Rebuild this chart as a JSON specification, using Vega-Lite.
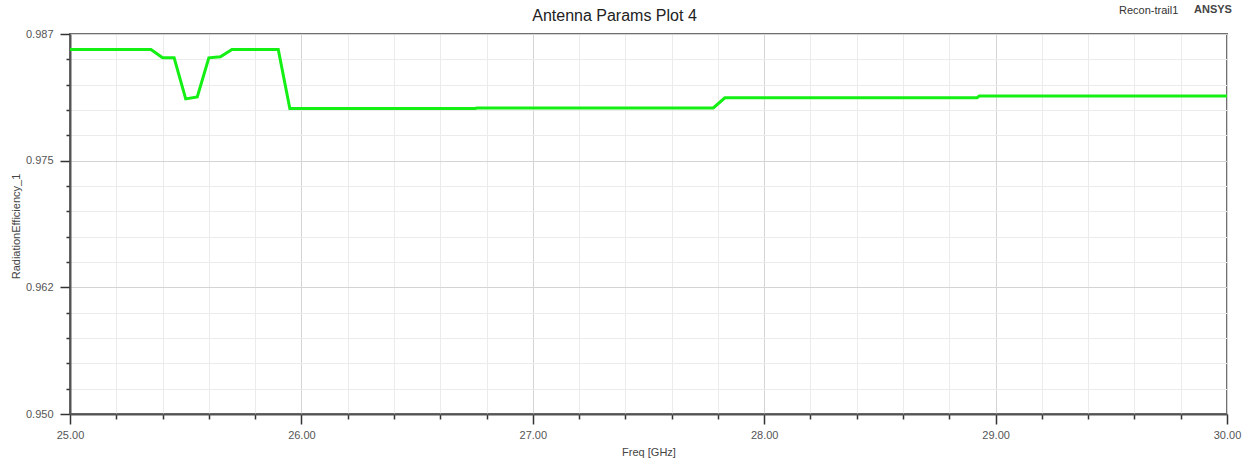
{
  "$schema": "https://vega.github.io/schema/vega-lite/v6.json",
  "autosize": {"type": "none"},
  "width": 1157,
  "height": 380,
  "padding": {"left": 70, "top": 34, "right": 28, "bottom": 58},
  "background": "white",
  "title": {
    "text": "Antenna Params Plot 4",
    "font": "Liberation Sans",
    "fontSize": 16,
    "fontWeight": "normal",
    "color": "#222222",
    "anchor": "middle",
    "frame": "group",
    "dx": -34,
    "dy": 32,
    "offset": 13
  },
  "config": {
    "view": {"stroke": "#707070", "strokeWidth": 2},
    "font": "Liberation Sans"
  },
  "data": {
    "values": [
      {"design": "Recon-trail1", "freq": 25.00, "eff": 0.98549},
      {"design": "Recon-trail1", "freq": 25.35, "eff": 0.98549},
      {"design": "Recon-trail1", "freq": 25.40, "eff": 0.98468},
      {"design": "Recon-trail1", "freq": 25.45, "eff": 0.98468},
      {"design": "Recon-trail1", "freq": 25.50, "eff": 0.98068},
      {"design": "Recon-trail1", "freq": 25.55, "eff": 0.98088},
      {"design": "Recon-trail1", "freq": 25.60, "eff": 0.98468},
      {"design": "Recon-trail1", "freq": 25.65, "eff": 0.98478},
      {"design": "Recon-trail1", "freq": 25.70, "eff": 0.98549},
      {"design": "Recon-trail1", "freq": 25.90, "eff": 0.98549},
      {"design": "Recon-trail1", "freq": 25.95, "eff": 0.97974},
      {"design": "Recon-trail1", "freq": 26.75, "eff": 0.97974},
      {"design": "Recon-trail1", "freq": 26.76, "eff": 0.97980},
      {"design": "Recon-trail1", "freq": 27.78, "eff": 0.97980},
      {"design": "Recon-trail1", "freq": 27.83, "eff": 0.98079},
      {"design": "Recon-trail1", "freq": 28.92, "eff": 0.98079},
      {"design": "Recon-trail1", "freq": 28.93, "eff": 0.98097},
      {"design": "Recon-trail1", "freq": 30.00, "eff": 0.98097}
    ]
  },
  "mark": {"type": "line", "strokeWidth": 3, "interpolate": "linear"},
  "encoding": {
    "x": {
      "field": "freq",
      "type": "quantitative",
      "scale": {"domain": [25, 30], "nice": false, "zero": false},
      "axis": {
        "title": "Freq [GHz]",
        "titleFont": "Liberation Sans",
        "titleFontSize": 11,
        "titleFontWeight": "normal",
        "titleColor": "#444444",
        "titlePadding": 6,
        "values": [25, 25.2, 25.4, 25.6, 25.8, 26, 26.2, 26.4, 26.6, 26.8, 27, 27.2, 27.4, 27.6, 27.8, 28, 28.2, 28.4, 28.6, 28.8, 29, 29.2, 29.4, 29.6, 29.8, 30],
        "labelExpr": "abs(datum.value - round(datum.value)) < 0.01 ? format(datum.value, '.2f') : ''",
        "labelFont": "Liberation Sans",
        "labelFontSize": 11,
        "labelColor": "#555555",
        "labelFlush": false,
        "labelOverlap": false,
        "labelPadding": 5,
        "domainColor": "#555555",
        "domainWidth": 2,
        "tickColor": "#333333",
        "tickWidth": 1.5,
        "tickSize": {"condition": {"test": "abs(datum.value - round(datum.value)) < 0.01", "value": 10}, "value": 5},
        "grid": true,
        "gridColor": {"condition": {"test": "abs(datum.value - round(datum.value)) < 0.01", "value": "#d4d4d4"}, "value": "#ebebeb"},
        "gridWidth": 1
      }
    },
    "y": {
      "field": "eff",
      "type": "quantitative",
      "scale": {"domain": [0.95, 0.987], "nice": false, "zero": false},
      "axis": {
        "title": "RadiationEfficiency_1",
        "titleFont": "Liberation Sans",
        "titleFontSize": 11,
        "titleFontWeight": "normal",
        "titleColor": "#444444",
        "titleAngle": -90,
        "titleX": -54,
        "titleY": 192,
        "titleAlign": "center",
        "titleBaseline": "middle",
        "values": [0.95, 0.9524667, 0.9549333, 0.9574, 0.9598667, 0.9623333, 0.9648, 0.9672667, 0.9697333, 0.9722, 0.9746667, 0.9771333, 0.9796, 0.9820667, 0.9845333, 0.987],
        "labelExpr": "abs((datum.value - 0.95) / 0.0123333 - round((datum.value - 0.95) / 0.0123333)) < 0.05 ? format(datum.value, '.3f') : ''",
        "labelFont": "Liberation Sans",
        "labelFontSize": 11,
        "labelColor": "#555555",
        "labelFlush": false,
        "labelOverlap": false,
        "labelPadding": 7,
        "domainColor": "#555555",
        "domainWidth": 2,
        "tickColor": "#333333",
        "tickWidth": 1.5,
        "tickSize": {"condition": {"test": "abs((datum.value - 0.95) / 0.0123333 - round((datum.value - 0.95) / 0.0123333)) < 0.05", "value": 10}, "value": 4},
        "grid": true,
        "gridColor": {"condition": {"test": "abs((datum.value - 0.95) / 0.0123333 - round((datum.value - 0.95) / 0.0123333)) < 0.05", "value": "#d4d4d4"}, "value": "#ebebeb"},
        "gridWidth": 1
      }
    },
    "color": {
      "field": "design",
      "type": "nominal",
      "scale": {"domain": ["Recon-trail1"], "range": ["#14f014"]},
      "legend": {
        "orient": "none",
        "legendX": 1038,
        "legendY": -29,
        "title": "ANSYS",
        "titleOrient": "right",
        "titleFont": "Liberation Sans",
        "titleFontSize": 11,
        "titleFontWeight": "bold",
        "titleColor": "#444444",
        "titlePadding": 16,
        "labelFont": "Liberation Sans",
        "labelFontSize": 11,
        "labelColor": "#333333",
        "symbolSize": 0,
        "symbolOpacity": 0,
        "symbolStrokeWidth": 0,
        "labelOffset": 0,
        "padding": 0
      }
    }
  }
}
